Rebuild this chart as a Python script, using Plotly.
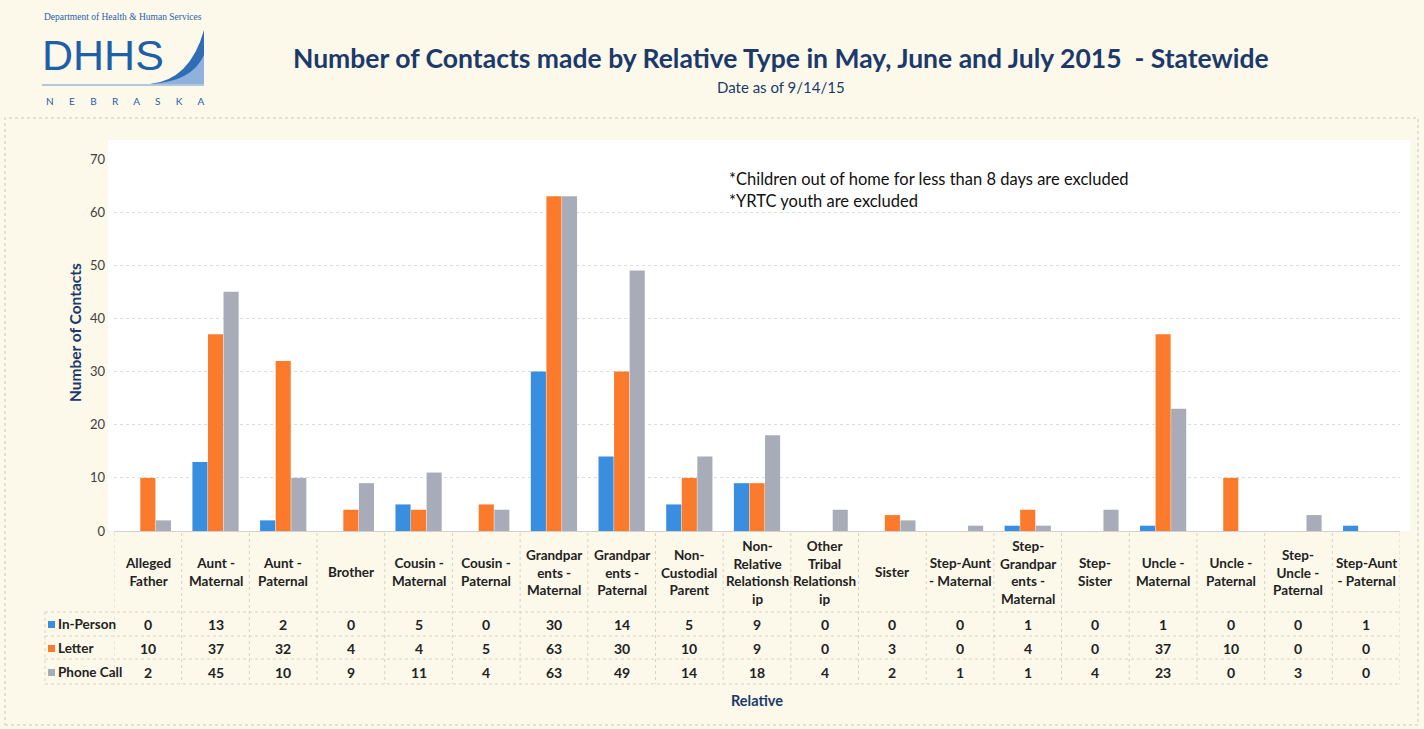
import plotly.graph_objects as go

categories = ["Alleged<br>Father", "Aunt -<br>Maternal", "Aunt -<br>Paternal", "Brother",
              "Cousin -<br>Maternal", "Cousin -<br>Paternal", "Grandpar<br>ents -<br>Maternal",
              "Grandpar<br>ents -<br>Paternal", "Non-<br>Custodial<br>Parent",
              "Non-<br>Relative<br>Relationsh<br>ip", "Other<br>Tribal<br>Relationsh<br>ip",
              "Sister", "Step-Aunt<br>- Maternal", "Step-<br>Grandpar<br>ents -<br>Maternal",
              "Step-<br>Sister", "Uncle -<br>Maternal", "Uncle -<br>Paternal",
              "Step-<br>Uncle -<br>Paternal", "Step-Aunt<br>- Paternal"]
in_person = [0, 13, 2, 0, 5, 0, 30, 14, 5, 9, 0, 0, 0, 1, 0, 1, 0, 0, 1]
letter = [10, 37, 32, 4, 4, 5, 63, 30, 10, 9, 0, 3, 0, 4, 0, 37, 10, 0, 0]
phone_call = [2, 45, 10, 9, 11, 4, 63, 49, 14, 18, 4, 2, 1, 1, 4, 23, 0, 3, 0]
series_names = ["In-Person", "Letter", "Phone Call"]
series_colors = ["#3a8ee0", "#fb7a2c", "#a8acb8"]
y_ticks = [0, 10, 20, 30, 40, 50, 60, 70]

W, H = 1424, 729
def px(x):
    return x / W
def py(y):
    return 1 - y / H

NAVY = "#1b3a6b"
FONT = "Lato"
xidx = list(range(len(categories)))

fig = go.Figure()
for name, vals, col in zip(series_names, [in_person, letter, phone_call], series_colors):
    fig.add_trace(go.Bar(x=xidx, y=vals, name=name, marker=dict(color=col, line=dict(width=0)),
                         showlegend=False))

fig.update_layout(
    width=W, height=H,
    margin=dict(l=0, r=0, t=0, b=0, autoexpand=False),
    paper_bgcolor="#fcf8ea",
    plot_bgcolor="#ffffff",
    barmode="group", bargap=0.31, bargroupgap=0.03,
    font=dict(family=FONT, color="#333333"),
    xaxis=dict(domain=[px(114), px(1400)], range=[-0.5, len(categories) - 0.5],
               showticklabels=False, showgrid=False, zeroline=False, showline=False, ticks=""),
    yaxis=dict(domain=[py(531), py(159)], range=[0, 70], tickvals=y_ticks,
               showgrid=True, gridcolor="#dedede", griddash="dot", gridwidth=1,
               zeroline=True, zerolinecolor="#d0d0d0", zerolinewidth=1,
               tickfont=dict(size=13, color="#404040", family=FONT), ticks="",
               ticklabelstandoff=8),
)

shapes = []
ann = []

def text(x, y, t, size, color, family=FONT, xanchor="center", yanchor="middle", xref="paper", **kw):
    ann.append(dict(x=x, xref=xref, y=y, yref="paper", text=t, showarrow=False,
                    xanchor=xanchor, yanchor=yanchor,
                    font=dict(size=size, color=color, family=family), **kw))

# white panel behind chart area
shapes.append(dict(type="rect", xref="paper", yref="paper", x0=px(108), x1=px(1410), y0=py(531), y1=py(140),
                   fillcolor="#ffffff", line=dict(width=0), layer="below"))
# outer border
shapes.append(dict(type="rect", xref="paper", yref="paper", x0=px(5), x1=px(1418), y0=py(725), y1=py(118),
                   fillcolor="rgba(0,0,0,0)", line=dict(color="#c8c8c8", width=1, dash="dot")))

# table grid
table_top = 533
row_lines = [612, 636, 659, 684]
for i in range(len(categories) + 1):
    shapes.append(dict(type="line", xref="x", yref="paper", x0=i - 0.5, x1=i - 0.5,
                       y0=py(table_top), y1=py(684), line=dict(color="#d4d2c8", width=1, dash="dot")))
shapes.append(dict(type="line", xref="paper", yref="paper", x0=px(45), x1=px(45),
                   y0=py(612), y1=py(684), line=dict(color="#d4d2c8", width=1, dash="dot")))
for yl in row_lines:
    shapes.append(dict(type="line", xref="paper", yref="paper", x0=px(45), x1=px(1400),
                       y0=py(yl), y1=py(yl), line=dict(color="#d4d2c8", width=1, dash="dot")))

# category labels
for i, c in enumerate(categories):
    text(i, py(572), "<b>" + c + "</b>", 13.5, "#222222", xref="x")

# table values and row labels
row_y = [624, 648, 672]
for name, vals, col, yy in zip(series_names, [in_person, letter, phone_call], series_colors, row_y):
    for i, v in enumerate(vals):
        text(i, py(yy), "<b>%d</b>" % v, 14, "#222222", xref="x")
    shapes.append(dict(type="rect", xref="paper", yref="paper", x0=px(48), x1=px(55),
                       y0=py(yy + 4), y1=py(yy - 3), fillcolor=col, line=dict(width=0)))
    text(px(56), py(yy), "<b>%s</b>" % name, 13.5, "#222222", xanchor="left")

# axis titles
text(px(75), py(333), "<b>Number of Contacts</b>", 15.5, NAVY, textangle=-90)
text(px(757), py(700), "<b>Relative</b>", 14.5, NAVY)

# title
text(px(781), py(58), "<b>Number of Contacts made by Relative Type in May, June and July 2015  - Statewide</b>",
     26.5, NAVY)
text(px(781), py(87), "Date as of 9/14/15", 15, NAVY)

# notes
text(px(727), py(179), "*Children out of home for less than 8 days are excluded", 16.5, "#111111",
     xanchor="left")
text(px(727), py(201), "*YRTC youth are excluded", 16.5, "#111111", xanchor="left")

# logo
text(px(42), py(17), "Department of Health &amp; Human Services", 9.5, "#2a5fa8",
     family="Liberation Sans Narrow", xanchor="left")
text(px(40), py(55), "DHHS", 43, "#1f5fa8", family="Liberation Sans", xanchor="left")
text(px(125), py(101), "N      E      B      R      A      S      K      A", 10, "#1f5fa8")
shapes.append(dict(type="path", xref="paper", yref="paper",
                   path="M %f %f Q %f %f %f %f L %f %f Z" % (px(150), py(84), px(190), py(80), px(204), py(30),
                                                            px(204), py(84)),
                   fillcolor="#2f6db4", line=dict(width=0)))
shapes.append(dict(type="path", xref="paper", yref="paper",
                   path="M %f %f Q %f %f %f %f L %f %f Z" % (px(150), py(84), px(192), py(82), px(204), py(55),
                                                            px(204), py(84)),
                   fillcolor="#8fb2dc", line=dict(width=0)))
shapes.append(dict(type="line", xref="paper", yref="paper", x0=px(42), x1=px(204), y0=py(85), y1=py(85),
                   line=dict(color="#6b95c8", width=1)))

fig.update_layout(shapes=shapes, annotations=ann)
fig.write_html("out.html")
